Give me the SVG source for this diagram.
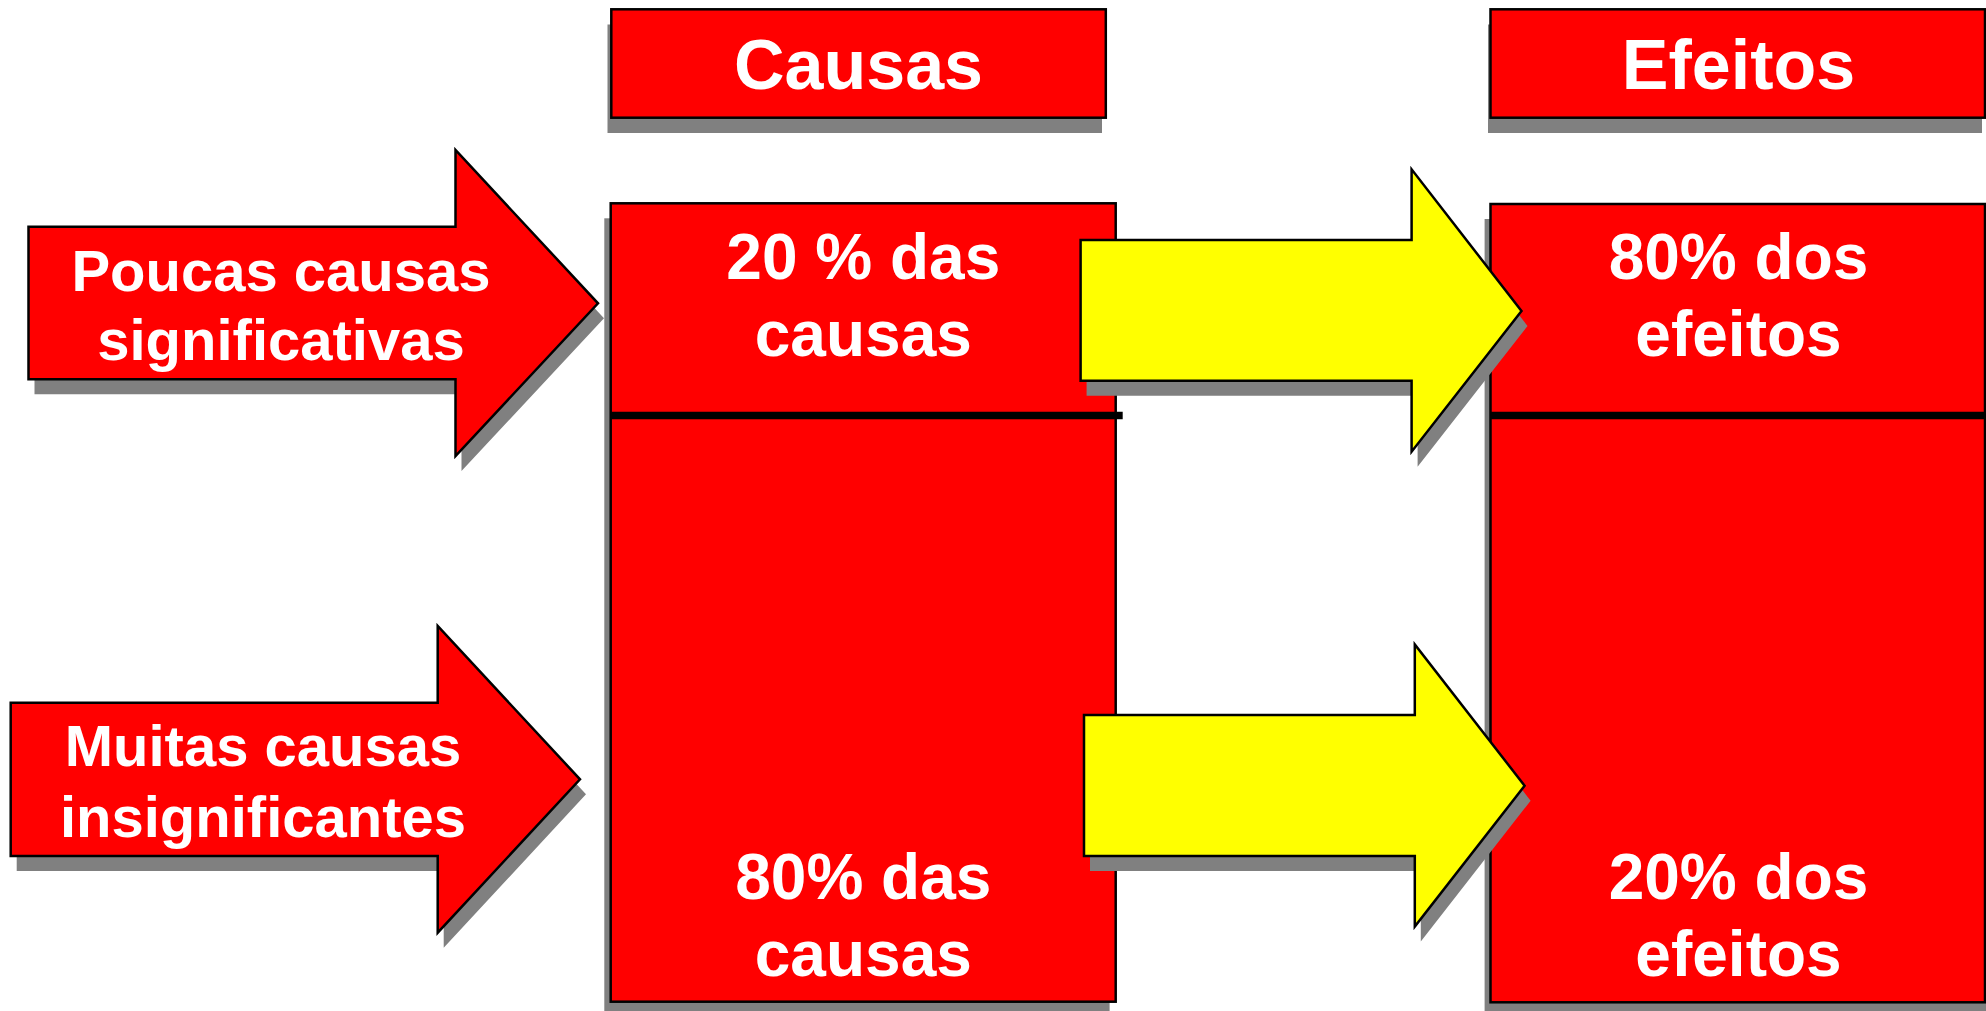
<svg xmlns="http://www.w3.org/2000/svg" xmlns:xlink="http://www.w3.org/1999/xlink" width="1986" height="1011" viewBox="0 0 1986 1011">
<style>
.red{fill:#FF0000;stroke:#000;stroke-width:2.5}
.yel{fill:#FFFF00;stroke:#000;stroke-width:2.5}
.shd{fill:#808080}
.sep{stroke:#000;stroke-width:7.5}
.t{font-family:"Liberation Sans",Arial,sans-serif;font-weight:bold;fill:#fff;text-anchor:middle}
.h{font-size:70px}
.c{font-size:64px}
.a{font-size:58px}
</style>
<defs>
<path id="arrR1" d="M28.5,226.7 H455.5 V150 L598,303.3 L455.5,456 V379.3 H28.5 Z"/>
<path id="arrR2" d="M10.7,702.7 H437.7 V626 L580,779.3 L437.7,932.7 V856 H10.7 Z"/>
<path id="arrY1" d="M1080.6,240 H1411.6 V169.3 L1521.5,311 L1411.6,451.7 V380.7 H1080.6 Z"/>
<path id="arrY2" d="M1084,715 H1414.8 V644.5 L1524.6,785.7 L1414.8,926.5 V856 H1084 Z"/>
</defs>
<rect width="1986" height="1011" fill="#fff"/>

<g id="header-causas">
<rect class="shd" x="607.5" y="24.5" width="494.5" height="108.5"/>
<rect class="red" x="611.3" y="9.3" width="494.5" height="108.4"/>
<text class="t h" x="858.5" y="89.3">Causas</text>
</g>

<g id="header-efeitos">
<rect class="shd" x="1488" y="24.5" width="494" height="108.5"/>
<rect class="red" x="1490.5" y="9.3" width="494.5" height="108.4"/>
<text class="t h" x="1738.5" y="89.3">Efeitos</text>
</g>

<g id="col-causas">
<rect class="shd" x="604.3" y="218.3" width="505.3" height="800"/>
<rect class="red" x="610.7" y="203.3" width="505" height="798.4"/>
<line class="sep" x1="610.7" y1="415.5" x2="1122.7" y2="415.5"/>
<text class="t c" x="863.3" y="278.5">20 % das</text>
<text class="t c" x="863.3" y="355.5">causas</text>
<text class="t c" x="863.3" y="898.5">80% das</text>
<text class="t c" x="863.3" y="976">causas</text>
</g>

<g id="col-efeitos">
<rect class="shd" x="1484.6" y="219" width="510" height="800"/>
<rect class="red" x="1490.5" y="204" width="494.5" height="798.3"/>
<line class="sep" x1="1490.5" y1="415.5" x2="1986" y2="415.5"/>
<text class="t c" x="1738.5" y="279.3">80% dos</text>
<text class="t c" x="1738.5" y="356">efeitos</text>
<text class="t c" x="1738.5" y="899.3">20% dos</text>
<text class="t c" x="1738.5" y="976">efeitos</text>
</g>

<g id="arrow-poucas">
<use xlink:href="#arrR1" class="shd" transform="translate(6,15)"/>
<use xlink:href="#arrR1" class="red"/>
<text class="t a" x="281" y="291">Poucas causas</text>
<text class="t a" x="281" y="360">significativas</text>
</g>

<g id="arrow-muitas">
<use xlink:href="#arrR2" class="shd" transform="translate(6,15)"/>
<use xlink:href="#arrR2" class="red"/>
<text class="t a" x="263" y="766">Muitas causas</text>
<text class="t a" x="263" y="836.7">insignificantes</text>
</g>

<g id="connectors">
<use xlink:href="#arrY1" class="shd" transform="translate(6,15)"/>
<use xlink:href="#arrY1" class="yel"/>
<use xlink:href="#arrY2" class="shd" transform="translate(6,15)"/>
<use xlink:href="#arrY2" class="yel"/>
</g>
</svg>
